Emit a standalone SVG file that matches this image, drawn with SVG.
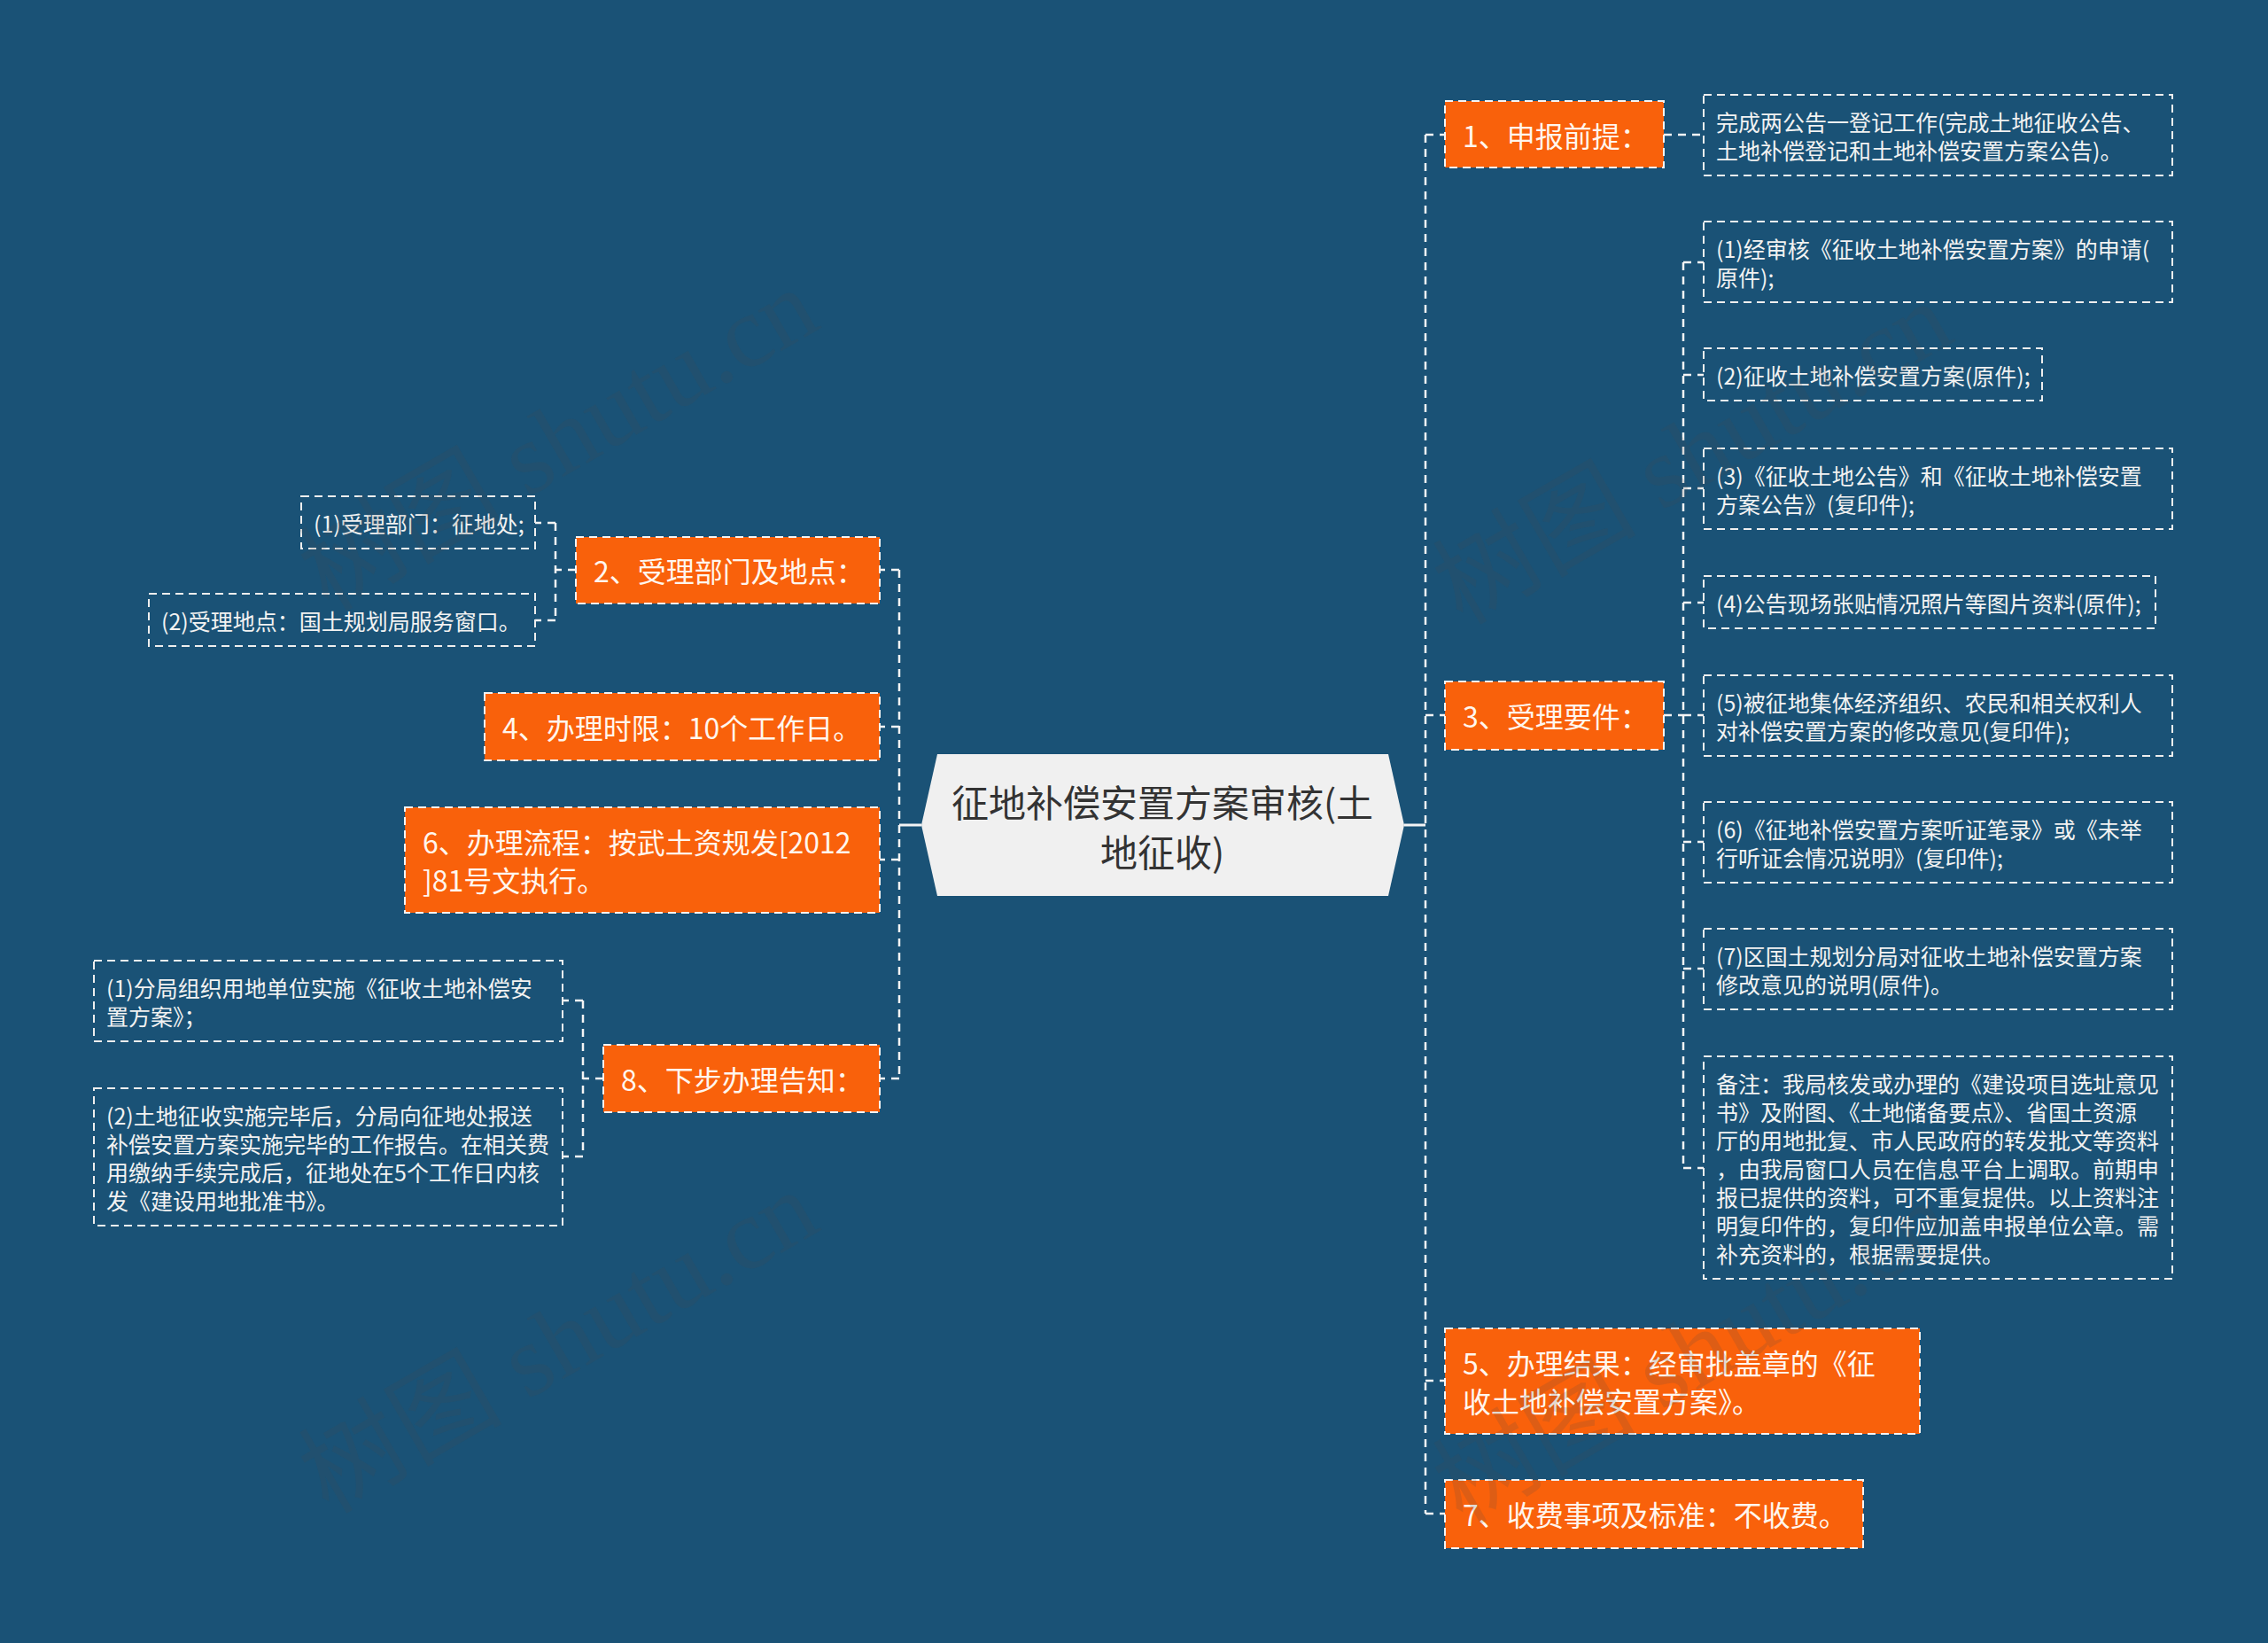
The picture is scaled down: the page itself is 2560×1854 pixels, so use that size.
<svg xmlns="http://www.w3.org/2000/svg" width="2560" height="1854" viewBox="0 0 2560 1854">
<defs>
<style>
.conn{fill:none;stroke:#f4f4f4;stroke-width:2.5;stroke-dasharray:9 7}
.solid{fill:none;stroke:#f4f4f4;stroke-width:3}
.nbox{fill:#f9610b;stroke:#f4f4f4;stroke-width:2;stroke-dasharray:9 6}
.lbox{fill:none;stroke:#eeeeee;stroke-width:2;stroke-dasharray:9 6}
text{font-family:"Noto Sans CJK SC","Noto Sans",sans-serif;dominant-baseline:central}
.nt{fill:#fff6ee;font-size:32px}
.lt{fill:#f2f2f2;font-size:25px}
.ct{fill:#333333;font-size:42px;text-anchor:middle}
.wm{font-family:"Liberation Serif","Noto Sans CJK SC",serif;font-size:115px;fill:#4a4a4a;fill-opacity:0.16;text-anchor:middle;dominant-baseline:auto}
</style>
</defs>
<rect width="2560" height="1854" fill="#1a5276"/>

<g id="connectors">
<path class="solid" d="M1585,931 H1609"/>
<path class="conn" d="M1609,152 V1708"/>
<path class="conn" d="M1609,152 H1631 M1609,807 H1631 M1609,1558 H1631 M1609,1708 H1631"/>
<path class="conn" d="M1878,152 H1923"/>
<path class="conn" d="M1878,807 H1900 M1900,296 V1318 M1900,296 H1923 M1900,423 H1923 M1900,551 H1923 M1900,680 H1923 M1900,807 H1923 M1900,950 H1923 M1900,1093 H1923 M1900,1318 H1923"/>
<path class="solid" d="M1040,931 H1015"/>
<path class="conn" d="M1015,643 V1217"/>
<path class="conn" d="M1015,643 H993 M1015,820 H993 M1015,970 H993 M1015,1217 H993"/>
<path class="conn" d="M650,643 H627 M627,590 V700 M627,590 H604 M627,700 H604"/>
<path class="conn" d="M681,1217 H658 M658,1129 V1305 M658,1129 H635 M658,1305 H635"/>
</g>

<g id="root">
<polygon points="1058,851 1567,851 1585,931 1567,1011 1058,1011 1040,931" fill="#f0f0f0"/>
<text class="ct" x="1312" y="903">征地补偿安置方案审核(土</text>
<text class="ct" x="1312" y="959">地征收)</text>
</g>

<g id="n1">
<rect class="nbox" x="1631" y="114" width="247" height="75"/>
<text class="nt" x="1651" y="152">1、申报前提：</text>
</g>
<g id="n1-1">
<rect class="lbox" x="1923" y="107" width="529" height="91"/>
<text class="lt" x="1937" y="137">完成两公告一登记工作(完成土地征收公告、</text>
<text class="lt" x="1937" y="169">土地补偿登记和土地补偿安置方案公告)。</text>
</g>

<g id="n3">
<rect class="nbox" x="1631" y="769" width="247" height="77"/>
<text class="nt" x="1651" y="807">3、受理要件：</text>
</g>
<g id="n3-1">
<rect class="lbox" x="1923" y="250" width="529" height="91"/>
<text class="lt" x="1937" y="280">(1)经审核《征收土地补偿安置方案》的申请(</text>
<text class="lt" x="1937" y="312">原件);</text>
</g>
<g id="n3-2">
<rect class="lbox" x="1923" y="393" width="382" height="59"/>
<text class="lt" x="1937" y="423">(2)征收土地补偿安置方案(原件);</text>
</g>
<g id="n3-3">
<rect class="lbox" x="1923" y="506" width="529" height="91"/>
<text class="lt" x="1937" y="536">(3)《征收土地公告》和《征收土地补偿安置</text>
<text class="lt" x="1937" y="568">方案公告》(复印件);</text>
</g>
<g id="n3-4">
<rect class="lbox" x="1923" y="650" width="510" height="59"/>
<text class="lt" x="1937" y="680">(4)公告现场张贴情况照片等图片资料(原件);</text>
</g>
<g id="n3-5">
<rect class="lbox" x="1923" y="762" width="529" height="91"/>
<text class="lt" x="1937" y="792">(5)被征地集体经济组织、农民和相关权利人</text>
<text class="lt" x="1937" y="824">对补偿安置方案的修改意见(复印件);</text>
</g>
<g id="n3-6">
<rect class="lbox" x="1923" y="905" width="529" height="91"/>
<text class="lt" x="1937" y="935">(6)《征地补偿安置方案听证笔录》或《未举</text>
<text class="lt" x="1937" y="967">行听证会情况说明》(复印件);</text>
</g>
<g id="n3-7">
<rect class="lbox" x="1923" y="1048" width="529" height="91"/>
<text class="lt" x="1937" y="1078">(7)区国土规划分局对征收土地补偿安置方案</text>
<text class="lt" x="1937" y="1110">修改意见的说明(原件)。</text>
</g>
<g id="n3-8">
<rect class="lbox" x="1923" y="1192" width="529" height="251"/>
<text class="lt" x="1937" y="1222">备注：我局核发或办理的《建设项目选址意见</text>
<text class="lt" x="1937" y="1254">书》及附图、《土地储备要点》、省国土资源</text>
<text class="lt" x="1937" y="1286">厅的用地批复、市人民政府的转发批文等资料</text>
<text class="lt" x="1937" y="1318">，由我局窗口人员在信息平台上调取。前期申</text>
<text class="lt" x="1937" y="1350">报已提供的资料，可不重复提供。以上资料注</text>
<text class="lt" x="1937" y="1382">明复印件的，复印件应加盖申报单位公章。需</text>
<text class="lt" x="1937" y="1414">补充资料的，根据需要提供。</text>
</g>

<g id="n5">
<rect class="nbox" x="1631" y="1499" width="536" height="119"/>
<text class="nt" x="1651" y="1537">5、办理结果：经审批盖章的《征</text>
<text class="nt" x="1651" y="1580">收土地补偿安置方案》。</text>
</g>
<g id="n7">
<rect class="nbox" x="1631" y="1670" width="472" height="77"/>
<text class="nt" x="1651" y="1708">7、收费事项及标准：不收费。</text>
</g>

<g id="n2">
<rect class="nbox" x="650" y="606" width="343" height="75"/>
<text class="nt" x="670" y="643">2、受理部门及地点：</text>
</g>
<g id="n2-1">
<rect class="lbox" x="340" y="560" width="264" height="59"/>
<text class="lt" x="354" y="590">(1)受理部门：征地处;</text>
</g>
<g id="n2-2">
<rect class="lbox" x="168" y="670" width="436" height="59"/>
<text class="lt" x="182" y="700">(2)受理地点：国土规划局服务窗口。</text>
</g>

<g id="n4">
<rect class="nbox" x="547" y="782" width="446" height="76"/>
<text class="nt" x="567" y="820">4、办理时限：10个工作日。</text>
</g>

<g id="n6">
<rect class="nbox" x="457" y="911" width="536" height="119"/>
<text class="nt" x="477" y="949">6、办理流程：按武土资规发[2012</text>
<text class="nt" x="477" y="992">]81号文执行。</text>
</g>

<g id="n8">
<rect class="nbox" x="681" y="1179" width="312" height="76"/>
<text class="nt" x="701" y="1217">8、下步办理告知：</text>
</g>
<g id="n8-1">
<rect class="lbox" x="106" y="1084" width="529" height="91"/>
<text class="lt" x="120" y="1114">(1)分局组织用地单位实施《征收土地补偿安</text>
<text class="lt" x="120" y="1146">置方案》；</text>
</g>
<g id="n8-2">
<rect class="lbox" x="106" y="1228" width="529" height="155"/>
<text class="lt" x="120" y="1258">(2)土地征收实施完毕后，分局向征地处报送</text>
<text class="lt" x="120" y="1290">补偿安置方案实施完毕的工作报告。在相关费</text>
<text class="lt" x="120" y="1322">用缴纳手续完成后，征地处在5个工作日内核</text>
<text class="lt" x="120" y="1354">发《建设用地批准书》。</text>
</g>

<g id="watermarks">
<text class="wm" transform="translate(650,530) rotate(-30)">树图 shutu.cn</text>
<text class="wm" transform="translate(1930,545) rotate(-30)">树图 shutu.cn</text>
<text class="wm" transform="translate(650,1548) rotate(-30)">树图 shutu.cn</text>
<text class="wm" transform="translate(1930,1560) rotate(-30)">树图 shutu.cn</text>
</g>
</svg>
